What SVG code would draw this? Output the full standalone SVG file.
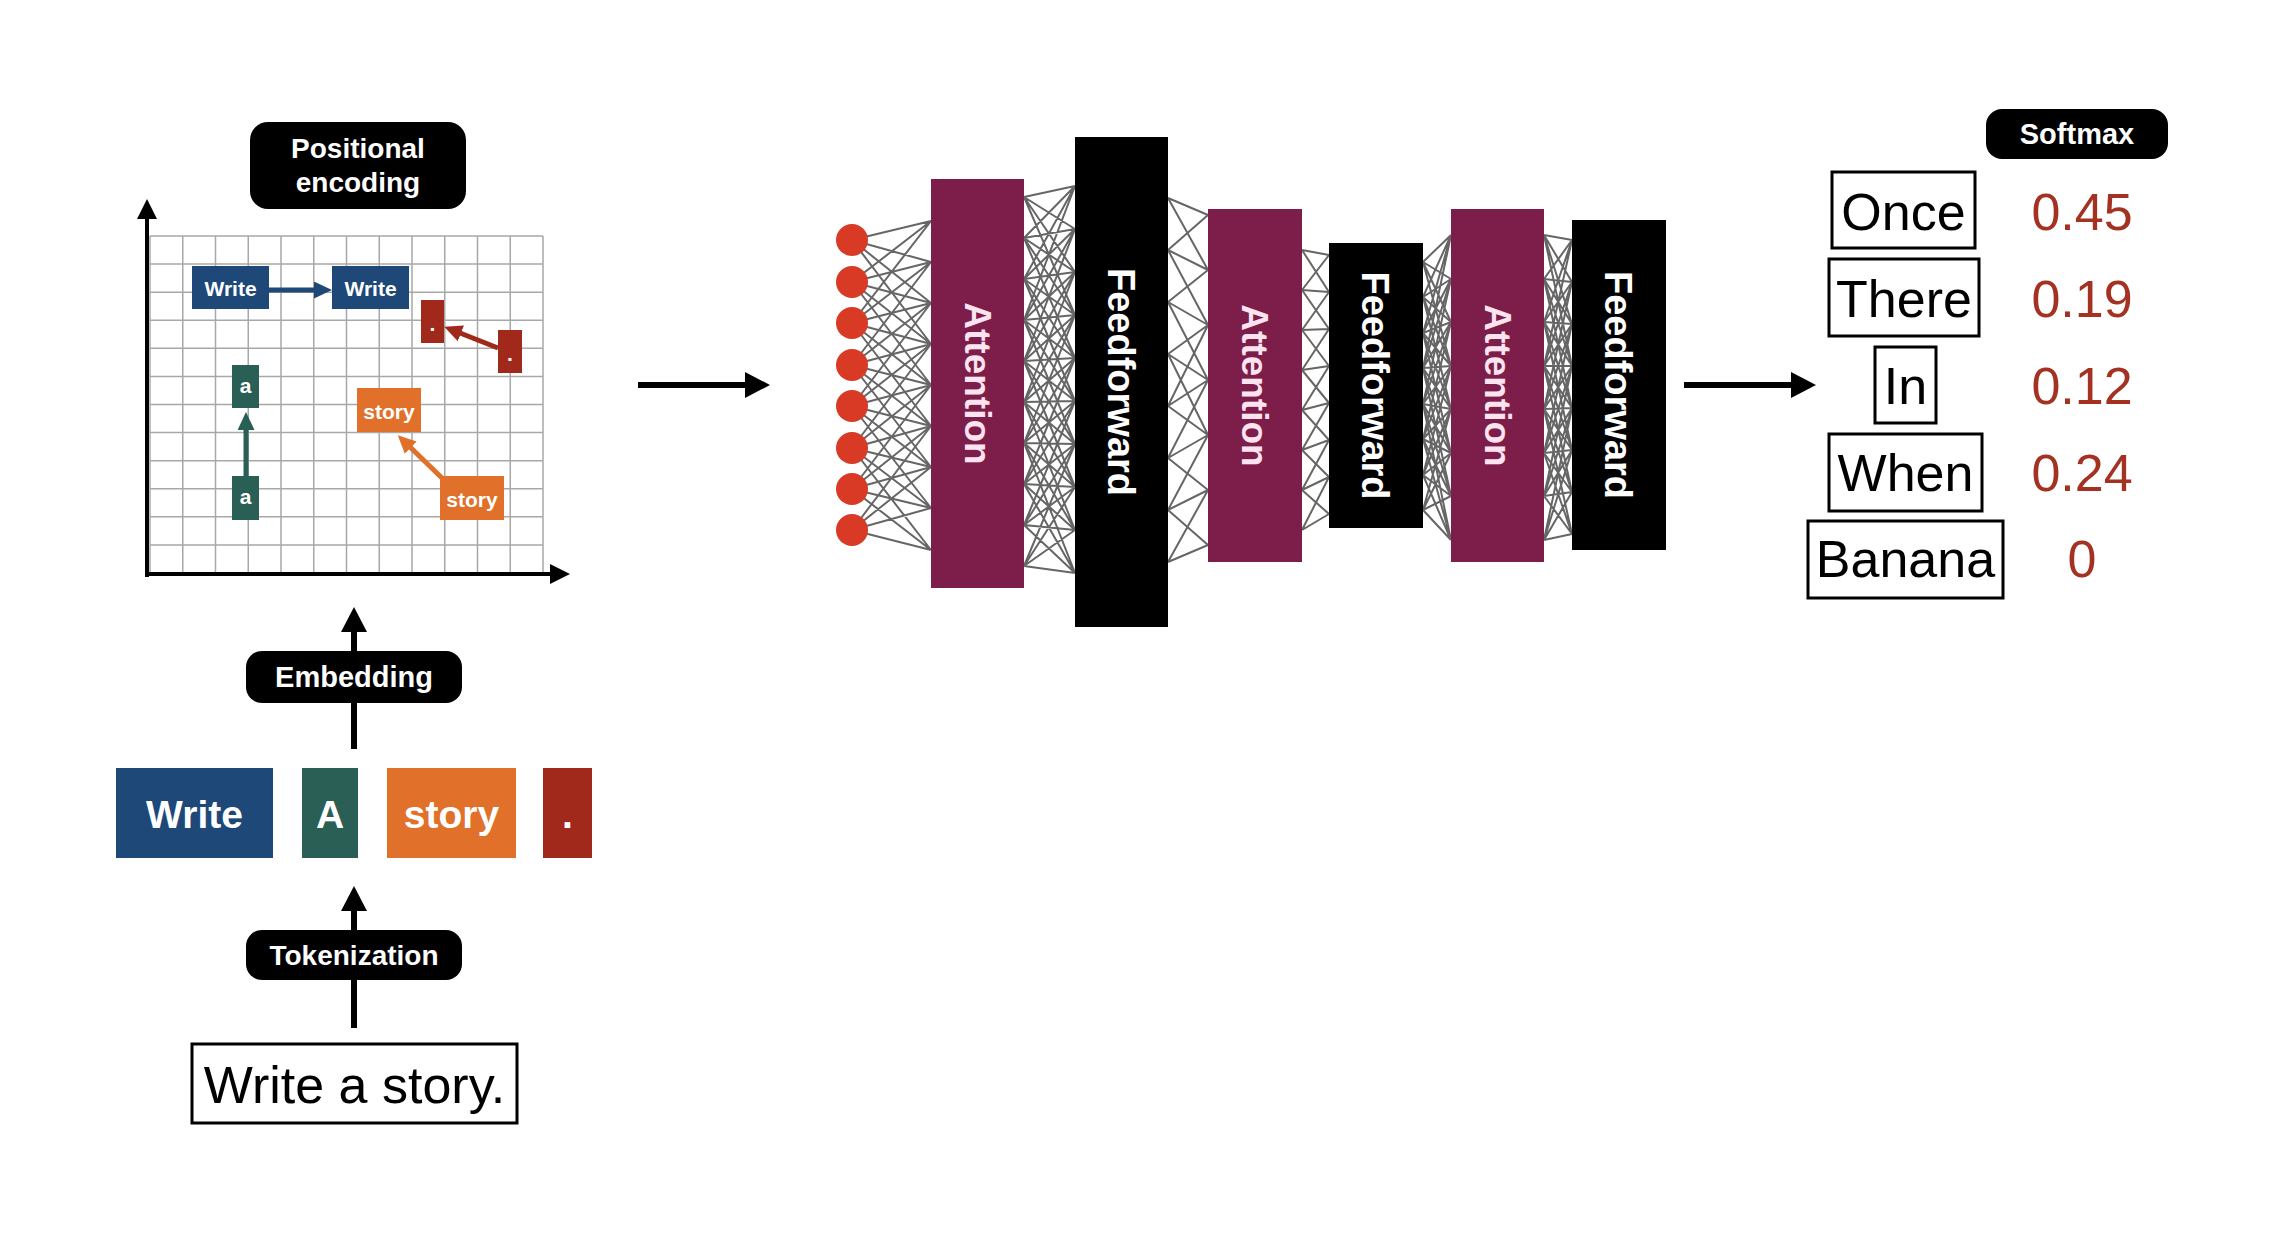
<svg xmlns="http://www.w3.org/2000/svg" width="2284" height="1240" viewBox="0 0 2284 1240">
<style>
text{font-family:"Liberation Sans",Arial,Helvetica,sans-serif}
.lbl{font-weight:bold;fill:#fff;text-anchor:middle}
.pill{fill:#000}
.word{font-size:52px;text-anchor:middle;fill:#000}
.num{font-size:52px;text-anchor:middle;fill:#a33222}
.wbox{fill:#fff;stroke:#000;stroke-width:3}
.att{fill:#7d1d4a}
.ff{fill:#000}
.attt{font-weight:bold;font-size:37px;fill:#fbe3f0;text-anchor:middle}
.fft{font-weight:bold;font-size:38px;fill:#fff;text-anchor:middle}
.mesh{stroke:#666;stroke-width:2;fill:none}
.grid{stroke:#a8a8a8;stroke-width:1.5;fill:none}
.arr{stroke:#000;stroke-width:6;fill:none}
.ax{stroke:#000;stroke-width:4;fill:none}
.blue{fill:#1e4878}
.green{fill:#2a5f55}
.orange{fill:#e0702a}
.red{fill:#a0291b}
.tok{font-weight:bold;font-size:39px;fill:#fff;text-anchor:middle}
.stok{font-weight:bold;font-size:21px;fill:#fff;text-anchor:middle}
</style>
<defs>
<marker id="mBig" viewBox="0 0 25 26" markerWidth="25" markerHeight="26" refX="1" refY="13" orient="auto" markerUnits="userSpaceOnUse"><path d="M0 0L25 13L0 26z" fill="#000"/></marker>
<marker id="mAx" viewBox="0 0 20 20" markerWidth="20" markerHeight="20" refX="1" refY="10" orient="auto" markerUnits="userSpaceOnUse"><path d="M0 0L20 10L0 20z" fill="#000"/></marker>
<marker id="mBlue" viewBox="0 0 18 17" markerWidth="18" markerHeight="17" refX="1" refY="8.5" orient="auto" markerUnits="userSpaceOnUse"><path d="M0 0L18 8.5L0 17z" fill="#1e4878"/></marker>
<marker id="mGreen" viewBox="0 0 18 17" markerWidth="18" markerHeight="17" refX="1" refY="8.5" orient="auto" markerUnits="userSpaceOnUse"><path d="M0 0L18 8.5L0 17z" fill="#2a5f55"/></marker>
<marker id="mRed" viewBox="0 0 18 17" markerWidth="18" markerHeight="17" refX="1" refY="8.5" orient="auto" markerUnits="userSpaceOnUse"><path d="M0 0L18 8.5L0 17z" fill="#a0291b"/></marker>
<marker id="mOrange" viewBox="0 0 18 17" markerWidth="18" markerHeight="17" refX="1" refY="8.5" orient="auto" markerUnits="userSpaceOnUse"><path d="M0 0L18 8.5L0 17z" fill="#e0702a"/></marker>
</defs>
<rect width="2284" height="1240" fill="#fff"/>

<!-- positional encoding plot -->
<g id="pe-grid">
<path class="grid" d="M150 236V573M182.75 236V573M215.5 236V573M248.25 236V573M281 236V573M313.75 236V573M346.5 236V573M379.25 236V573M412 236V573M444.75 236V573M477.5 236V573M510.25 236V573M543 236V573M150 236H543M150 264.1H543M150 292.2H543M150 320.3H543M150 348.3H543M150 376.4H543M150 404.5H543M150 432.6H543M150 460.7H543M150 488.8H543M150 516.8H543M150 544.9H543M150 573H543"/>
</g>

<g id="connectors">
<line class="ax" x1="147" y1="577" x2="147" y2="218" marker-end="url(#mAx)"/>
<line class="ax" x1="145" y1="574" x2="551" y2="574" marker-end="url(#mAx)"/>
<line x1="269" y1="290" x2="315" y2="290" stroke="#1e4878" stroke-width="5" marker-end="url(#mBlue)"/>
<line x1="246" y1="476" x2="246" y2="429" stroke="#2a5f55" stroke-width="5" marker-end="url(#mGreen)"/>
<line x1="498" y1="348" x2="460" y2="333" stroke="#a0291b" stroke-width="5" marker-end="url(#mRed)"/>
<line x1="442" y1="478" x2="410" y2="447" stroke="#e0702a" stroke-width="5" marker-end="url(#mOrange)"/>
<line class="arr" x1="354" y1="749" x2="354" y2="631" marker-end="url(#mBig)"/>
<line class="arr" x1="354" y1="1028" x2="354" y2="910" marker-end="url(#mBig)"/>
<line class="arr" x1="638" y1="385" x2="746" y2="385" marker-end="url(#mBig)"/>
<line class="arr" x1="1684" y1="385" x2="1792" y2="385" marker-end="url(#mBig)"/>
<path class="mesh" d="M852 240L931 221M852 240L931 262M852 240L931 303M852 240L931 344M852 282L931 221M852 282L931 262M852 282L931 303M852 282L931 344M852 282L931 385M852 323L931 221M852 323L931 262M852 323L931 303M852 323L931 344M852 323L931 385M852 323L931 426M852 365L931 262M852 365L931 303M852 365L931 344M852 365L931 385M852 365L931 426M852 365L931 467M852 406L931 303M852 406L931 344M852 406L931 385M852 406L931 426M852 406L931 467M852 406L931 508M852 448L931 344M852 448L931 385M852 448L931 426M852 448L931 467M852 448L931 508M852 448L931 550M852 489L931 385M852 489L931 426M852 489L931 467M852 489L931 508M852 489L931 550M852 530L931 426M852 530L931 467M852 530L931 508M852 530L931 550"/>
<path class="mesh" d="M1024 197L1075 186M1024 197L1075 229M1024 197L1075 272M1024 197L1075 315M1024 238L1075 186M1024 238L1075 229M1024 238L1075 272M1024 238L1075 315M1024 238L1075 358M1024 279L1075 186M1024 279L1075 229M1024 279L1075 272M1024 279L1075 315M1024 279L1075 358M1024 279L1075 401M1024 320L1075 186M1024 320L1075 229M1024 320L1075 272M1024 320L1075 315M1024 320L1075 358M1024 320L1075 401M1024 320L1075 444M1024 361L1075 229M1024 361L1075 272M1024 361L1075 315M1024 361L1075 358M1024 361L1075 401M1024 361L1075 444M1024 361L1075 487M1024 402L1075 272M1024 402L1075 315M1024 402L1075 358M1024 402L1075 401M1024 402L1075 444M1024 402L1075 487M1024 402L1075 530M1024 443L1075 315M1024 443L1075 358M1024 443L1075 401M1024 443L1075 444M1024 443L1075 487M1024 443L1075 530M1024 443L1075 573M1024 484L1075 358M1024 484L1075 401M1024 484L1075 444M1024 484L1075 487M1024 484L1075 530M1024 484L1075 573M1024 525L1075 401M1024 525L1075 444M1024 525L1075 487M1024 525L1075 530M1024 525L1075 573M1024 566L1075 444M1024 566L1075 487M1024 566L1075 530M1024 566L1075 573"/>
<path class="mesh" d="M1168 198L1208 215M1168 198L1208 270M1168 250L1208 215M1168 250L1208 270M1168 250L1208 325M1168 302L1208 270M1168 302L1208 325M1168 302L1208 380M1168 354L1208 325M1168 354L1208 380M1168 354L1208 435M1168 406L1208 325M1168 406L1208 380M1168 406L1208 435M1168 458L1208 380M1168 458L1208 435M1168 458L1208 490M1168 510L1208 435M1168 510L1208 490M1168 510L1208 545M1168 562L1208 490M1168 562L1208 545"/>
<path class="mesh" d="M1302 250L1329 255M1302 250L1329 292M1302 290L1329 255M1302 290L1329 292M1302 290L1329 329M1302 330L1329 292M1302 330L1329 329M1302 330L1329 366M1302 370L1329 329M1302 370L1329 366M1302 370L1329 403M1302 410L1329 366M1302 410L1329 403M1302 410L1329 440M1302 450L1329 403M1302 450L1329 440M1302 450L1329 477M1302 490L1329 440M1302 490L1329 477M1302 490L1329 514M1302 530L1329 477M1302 530L1329 514"/>
<path class="mesh" d="M1423 262L1451 235M1423 262L1451 279M1423 262L1451 322M1423 262L1451 366M1423 297L1451 235M1423 297L1451 279M1423 297L1451 322M1423 297L1451 366M1423 297L1451 409M1423 333L1451 235M1423 333L1451 279M1423 333L1451 322M1423 333L1451 366M1423 333L1451 409M1423 333L1451 453M1423 368L1451 235M1423 368L1451 279M1423 368L1451 322M1423 368L1451 366M1423 368L1451 409M1423 368L1451 453M1423 368L1451 496M1423 404L1451 279M1423 404L1451 322M1423 404L1451 366M1423 404L1451 409M1423 404L1451 453M1423 404L1451 496M1423 404L1451 540M1423 439L1451 322M1423 439L1451 366M1423 439L1451 409M1423 439L1451 453M1423 439L1451 496M1423 439L1451 540M1423 475L1451 366M1423 475L1451 409M1423 475L1451 453M1423 475L1451 496M1423 475L1451 540M1423 510L1451 409M1423 510L1451 453M1423 510L1451 496M1423 510L1451 540"/>
<path class="mesh" d="M1544 235L1572 240M1544 235L1572 282M1544 235L1572 324M1544 235L1572 366M1544 279L1572 240M1544 279L1572 282M1544 279L1572 324M1544 279L1572 366M1544 279L1572 408M1544 322L1572 240M1544 322L1572 282M1544 322L1572 324M1544 322L1572 366M1544 322L1572 408M1544 322L1572 450M1544 366L1572 240M1544 366L1572 282M1544 366L1572 324M1544 366L1572 366M1544 366L1572 408M1544 366L1572 450M1544 366L1572 492M1544 409L1572 282M1544 409L1572 324M1544 409L1572 366M1544 409L1572 408M1544 409L1572 450M1544 409L1572 492M1544 409L1572 534M1544 453L1572 324M1544 453L1572 366M1544 453L1572 408M1544 453L1572 450M1544 453L1572 492M1544 453L1572 534M1544 496L1572 366M1544 496L1572 408M1544 496L1572 450M1544 496L1572 492M1544 496L1572 534M1544 540L1572 408M1544 540L1572 450M1544 540L1572 492M1544 540L1572 534"/>
</g>

<!-- grid tokens -->
<g id="pe-write1"><rect class="blue" x="192" y="266" width="77" height="43"/><text class="stok" x="230.5" y="296">Write</text></g>
<g id="pe-write2"><rect class="blue" x="332" y="266" width="77" height="43"/><text class="stok" x="370.5" y="296">Write</text></g>
<g id="pe-dot1"><rect class="red" x="421" y="300" width="23" height="43"/><text class="stok" x="432.5" y="331">.</text></g>
<g id="pe-dot2"><rect class="red" x="498" y="330" width="24" height="43"/><text class="stok" x="510" y="361">.</text></g>
<g id="pe-a1"><rect class="green" x="232" y="365" width="27" height="43"/><text class="stok" x="245.5" y="393">a</text></g>
<g id="pe-a2"><rect class="green" x="232" y="476" width="27" height="44"/><text class="stok" x="245.5" y="504">a</text></g>
<g id="pe-story1"><rect class="orange" x="357" y="388" width="64" height="44"/><text class="stok" x="389" y="419">story</text></g>
<g id="pe-story2"><rect class="orange" x="440" y="476" width="64" height="44"/><text class="stok" x="472" y="507">story</text></g>

<g id="label-positional"><rect class="pill" x="250" y="122" width="216" height="87" rx="18"/><text class="lbl" font-size="28" x="358" y="158">Positional</text><text class="lbl" font-size="28" x="358" y="192">encoding</text></g>
<g id="label-embedding"><rect class="pill" x="246" y="651" width="216" height="52" rx="16"/><text class="lbl" font-size="29" x="354" y="687">Embedding</text></g>
<g id="label-tokenization"><rect class="pill" x="246" y="930" width="216" height="50" rx="16"/><text class="lbl" font-size="28" x="354" y="965">Tokenization</text></g>

<g id="tok-write"><rect class="blue" x="116" y="768" width="157" height="90"/><text class="tok" x="194.5" y="828">Write</text></g>
<g id="tok-a"><rect class="green" x="302" y="768" width="56" height="90"/><text class="tok" x="330" y="828">A</text></g>
<g id="tok-story"><rect class="orange" x="387" y="768" width="129" height="90"/><text class="tok" x="451.5" y="828">story</text></g>
<g id="tok-dot"><rect class="red" x="543" y="768" width="49" height="90"/><text class="tok" x="567.5" y="828">.</text></g>

<g id="input"><rect class="wbox" x="192" y="1044" width="325" height="79"/><text class="word" font-size="53" x="354.5" y="1103">Write a story.</text></g>

<!-- network -->
<g id="inputs">
<circle cx="852" cy="240" r="16" fill="#d93a25"/><circle cx="852" cy="282" r="16" fill="#d93a25"/><circle cx="852" cy="323" r="16" fill="#d93a25"/><circle cx="852" cy="365" r="16" fill="#d93a25"/><circle cx="852" cy="406" r="16" fill="#d93a25"/><circle cx="852" cy="448" r="16" fill="#d93a25"/><circle cx="852" cy="489" r="16" fill="#d93a25"/><circle cx="852" cy="530" r="16" fill="#d93a25"/>
</g>
<g id="attention1"><rect class="att" x="931" y="179" width="93" height="409"/><text class="attt" transform="translate(977.5,383.5) rotate(90)" y="13">Attention</text></g>
<g id="feedforward1"><rect class="ff" x="1075" y="137" width="93" height="490"/><text class="fft" transform="translate(1121.5,382) rotate(90)" y="14">Feedforward</text></g>
<g id="attention2"><rect class="att" x="1208" y="209" width="94" height="353"/><text class="attt" transform="translate(1255,385.5) rotate(90)" y="13">Attention</text></g>
<g id="feedforward2"><rect class="ff" x="1329" y="243" width="94" height="285"/><text class="fft" transform="translate(1376,385.5) rotate(90)" y="14">Feedforward</text></g>
<g id="attention3"><rect class="att" x="1451" y="209" width="93" height="353"/><text class="attt" transform="translate(1497.5,385.5) rotate(90)" y="13">Attention</text></g>
<g id="feedforward3"><rect class="ff" x="1572" y="220" width="94" height="330"/><text class="fft" transform="translate(1619,385) rotate(90)" y="14">Feedforward</text></g>

<!-- output -->
<g id="label-softmax"><rect class="pill" x="1986" y="109" width="182" height="50" rx="16"/><text class="lbl" font-size="29" x="2077" y="144">Softmax</text></g>
<g id="out-once"><rect class="wbox" x="1832" y="172" width="143" height="76"/><text class="word" x="1903.5" y="230">Once</text><text class="num" x="2082" y="230">0.45</text></g>
<g id="out-there"><rect class="wbox" x="1829" y="259" width="150" height="77"/><text class="word" x="1904" y="317">There</text><text class="num" x="2082" y="317">0.19</text></g>
<g id="out-in"><rect class="wbox" x="1875" y="347" width="61" height="76"/><text class="word" x="1905.5" y="404">In</text><text class="num" x="2082" y="404">0.12</text></g>
<g id="out-when"><rect class="wbox" x="1829" y="434" width="153" height="77"/><text class="word" x="1905.5" y="491">When</text><text class="num" x="2082" y="491">0.24</text></g>
<g id="out-banana"><rect class="wbox" x="1808" y="521" width="195" height="77"/><text class="word" x="1905.5" y="577">Banana</text><text class="num" x="2082" y="577">0</text></g>
</svg>
